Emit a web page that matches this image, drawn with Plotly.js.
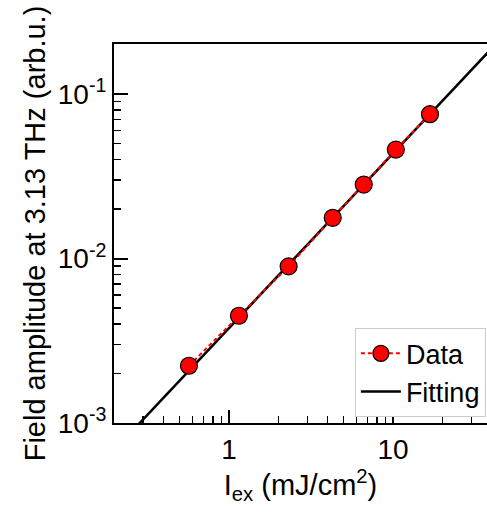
<!DOCTYPE html>
<html><head><meta charset="utf-8">
<script src="https://cdn.plot.ly/plotly-3.0.1.min.js"></script>
<style>html,body{margin:0;padding:0;background:#fff}#chart{width:487px;height:512px}</style>
</head><body><div id="chart"></div>
<script>
const dataX = [0.570, 1.15, 2.31, 4.29, 6.63, 10.4, 16.8];
const dataY = [0.00223, 0.00449, 0.00897, 0.0177, 0.0282, 0.0460, 0.0755];
const fitX = [0.2, 40];
const fitY = [0.000684, 0.19];
const yTickVals = [0.001, 0.01, 0.1];
const yTickText = ['10<sup>-3</sup>', '10<sup>-2</sup>', '10<sup>-1</sup>'];
const xTickVals = [1, 10];
const xTickText = ['1', '10'];
const xMinorVals = [0.3,0.4,0.5,0.6,0.7,0.8,0.9,2,3,4,5,6,7,8,9,20,30];
const yMinorVals = [0.002,0.003,0.004,0.005,0.006,0.007,0.008,0.009,0.02,0.03,0.04,0.05,0.06,0.07,0.08,0.09,0.2];

const font = 'Liberation Sans, Arial, sans-serif';
const traces = [
  {x: fitX, y: fitY, name: 'Fitting', mode: 'lines', type: 'scatter', legendrank: 2,
   line: {color: '#000', width: 2.5}},
  {x: dataX, y: dataY, name: 'Data', mode: 'lines+markers', type: 'scatter', legendrank: 1,
   line: {color: '#ff0000', dash: '4px,3px', width: 2},
   marker: {color: '#ff0000', size: 17, line: {color: '#000', width: 1.2}}}
];
const layout = {
  width: 487, height: 512,
  margin: {l: 114, r: 0, t: 44, b: 89},
  paper_bgcolor: '#fff', plot_bgcolor: '#fff',
  font: {family: font, size: 28, color: '#000'},
  showlegend: true,
  legend: {x: 0.997, y: 0.25, xanchor: 'right', yanchor: 'top',
    bordercolor: '#cccccc', borderwidth: 1, bgcolor: '#fff',
    font: {size: 27, family: font}, tracegroupgap: 0, itemwidth: 40},
  xaxis: {type: 'log', range: [-0.701, 1.573],
    tickmode: 'array', tickvals: xTickVals, ticktext: xTickText,
    ticks: 'inside', ticklen: 13, tickwidth: 2, tickcolor: '#000',
    minor: {tickmode: 'array', tickvals: xMinorVals, ticks: 'inside', ticklen: 7, tickwidth: 1.5, tickcolor: '#000', showgrid: false},
    showline: true, linecolor: '#000', linewidth: 2, mirror: true,
    showgrid: false, zeroline: false,
    tickfont: {size: 28, family: font},
    title: {text: 'I<sub>ex</sub> (mJ/cm<sup>2</sup>)', font: {size: 29, family: font}, standoff: 4}},
  yaxis: {type: 'log', range: [-3, -0.695],
    tickmode: 'array', tickvals: yTickVals, ticktext: yTickText,
    ticks: 'inside', ticklen: 14, tickwidth: 2, tickcolor: '#000',
    minor: {tickmode: 'array', tickvals: yMinorVals, ticks: 'inside', ticklen: 7, tickwidth: 1.5, tickcolor: '#000', showgrid: false},
    showline: true, linecolor: '#000', linewidth: 2, mirror: false,
    showgrid: false, zeroline: false,
    tickfont: {size: 28, family: font},
    title: {text: 'Field amplitude at 3.13 THz (arb.u.)', font: {size: 29, family: font}, standoff: 4}}
};
Plotly.newPlot('chart', traces, layout, {displayModeBar: false, staticPlot: true});
</script></body></html>
